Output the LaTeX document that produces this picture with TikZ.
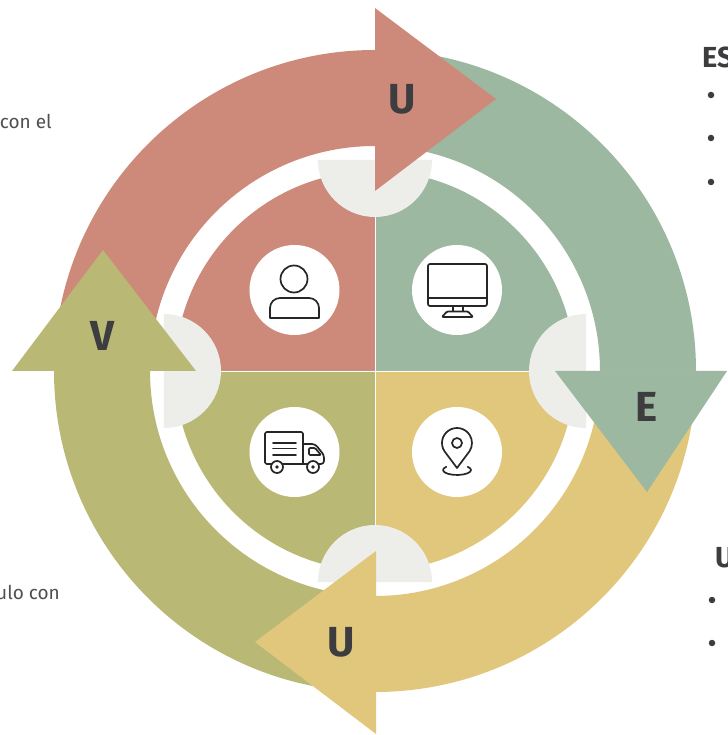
\documentclass[tikz,border=0pt]{standalone}
\usepackage{fontspec}
\setmainfont{Fira Sans}
\definecolor{cred}{HTML}{CD8A7A}
\definecolor{cgreen}{HTML}{9CB8A0}
\definecolor{cyellow}{HTML}{E1C77B}
\definecolor{colive}{HTML}{B9B975}
\definecolor{cgrey}{HTML}{EDEEE9}
\definecolor{ctext}{HTML}{3D3D3F}
\tikzset{
  letterlabel/.style={text=ctext,font=\fontsize{42}{42}\selectfont\bfseries,inner sep=0pt},
  headlabel/.style={text=ctext,font=\fontsize{29}{29}\selectfont\bfseries,inner sep=0pt},
  bodylabel/.style={text=ctext!90,font=\fontsize{19}{19}\selectfont,inner sep=0pt},
  iconbg/.style={circle,fill=white,minimum size=90pt,inner sep=0pt},
  iconline/.style={draw=black!85,line width=1.7pt,line join=round,line cap=round},
  greydisc/.style={fill=cgrey,draw=none},
  bulletdot/.style={circle,fill=ctext,minimum size=6.5pt,inner sep=0pt}
}
\newcommand{\ringpart}[3]{\fill[#1] (#2:321pt) arc[start angle=#2,end angle=#3,radius=321pt] -- (#3:225pt) arc[start angle=#3,end angle=#2,radius=225pt] -- cycle;}
\newcommand{\quarter}[3]{\fill[#1] (0,0) -- (#2:200pt) arc[start angle=#2,end angle=#3,radius=200pt] -- cycle;}
\begin{document}
\begin{tikzpicture}[x=1pt,y=1pt]
\useasboundingbox (-375,-364) rectangle (352,371);
\clip (-375,-364) rectangle (352,371);
\fill[white] (-375,-364) rectangle (352,371);
% rings
\ringpart{cred}{180}{90}
\ringpart{cgreen}{90}{0}
\ringpart{cyellow}{0}{-90}
\ringpart{colive}{-90}{-180}
% inner sectors
\quarter{cred}{90}{180}
\quarter{cgreen}{0}{90}
\quarter{cyellow}{-90}{0}
\quarter{colive}{180}{270}
\fill[white!85!cgrey] (-0.45,-200) rectangle (0.45,200);
\fill[white!85!cgrey] (-200,-0.45) rectangle (200,0.45);
% half discs
\fill[greydisc] (-57,211) arc[start angle=180,end angle=360,radius=57pt] -- cycle;
\fill[greydisc] (-57,-211) arc[start angle=180,end angle=0,radius=57pt] -- cycle;
\fill[greydisc] (-211,57) arc[start angle=90,end angle=-90,radius=57pt] -- cycle;
\fill[greydisc] (211,57) arc[start angle=90,end angle=270,radius=57pt] -- cycle;
% arrow heads
\fill[cred] (0,363) -- (121,272) -- (0,180) -- cycle;
\fill[cgreen] (180,0) -- (352,0) -- (272,-121) -- cycle;
\fill[cyellow] (1,-180) -- (-120,-271) -- (1,-363) -- cycle;
\fill[colive] (-363,0) -- (-179,0) -- (-272,121) -- cycle;
% icon discs
\node[iconbg] (iu) at (-80.5,81) {};
\node[iconbg] (im) at (82,81) {};
\node[iconbg] (it) at (-80.5,-81) {};
\node[iconbg] (ip) at (82,-81) {};
% user icon
\draw[iconline] (-81,92) circle (13.5pt);
\draw[iconline] (-105,53) -- (-105,63) arc[start angle=180,end angle=90,radius=10pt] -- (-66,73) arc[start angle=90,end angle=0,radius=10pt] -- (-56,53) -- cycle;
% monitor icon
\draw[iconline,rounded corners=2pt] (53,107) rectangle (112,65);
\draw[iconline] (53,73) -- (112,73);
\draw[iconline] (78,65) -- (78,60) (88,65) -- (88,60);
\draw[iconline,rounded corners=1pt] (72,59.5) -- (93,59.5) -- (98,54) -- (67,54) -- cycle;
% truck icon
\draw[iconline,rounded corners=1.5pt] (-72,-93) -- (-110,-93) -- (-110,-61) -- (-72,-61) -- (-72,-93);
\draw[iconline] (-102,-72) -- (-79,-72) (-102,-77.5) -- (-79,-77.5) (-102,-84) -- (-79,-84);
\draw[iconline,rounded corners=3pt] (-72,-73) -- (-60,-73) -- (-51,-84) -- (-51,-93) -- (-72,-93);
\draw[iconline,rounded corners=1pt] (-66,-77) -- (-60,-77) -- (-54,-84) -- (-66,-84) -- cycle;
\draw[iconline,fill=white] (-98,-96) circle (6pt);
\draw[iconline,fill=white] (-62,-96) circle (6pt);
\fill[black!85] (-98,-96) circle (1.8pt);
\fill[black!85] (-62,-96) circle (1.8pt);
% pin icon
\draw[iconline] (82,-97) -- (69.5,-80.3) arc[start angle=213.6,end angle=-33.6,radius=15pt] -- cycle;
\draw[iconline] (82,-72) circle (5pt);
\draw[iconline] (82,-99) ++(140:14pt and 5pt) arc[start angle=140,end angle=400,x radius=14pt,y radius=5pt];
% letters
\node[letterlabel] (lu1) at (27,272) {U};
\node[letterlabel] (le) at (272,-36) {E};
\node[letterlabel] (lv) at (-273,35) {V};
\node[letterlabel] (lu2) at (-34,-271) {U};
% side text, cut by the picture's edge as in the reference
\node[bodylabel,anchor=base east] (t1) at (-323,242) {con el};
\node[bodylabel,anchor=base east] (t2) at (-315,-228) {ulo con};
\node[headlabel,anchor=west] (h1) at (327,314) {ES};
\node[headlabel,anchor=west] (h2) at (340,-187) {U};
% bullets
\node[bulletdot] (b1) at (336,276) {};
\node[bulletdot] (b2) at (336,233) {};
\node[bulletdot] (b3) at (336,189) {};
\node[bulletdot] (b4) at (337,-229) {};
\node[bulletdot] (b5) at (337,-272) {};
\end{tikzpicture}
\end{document}
